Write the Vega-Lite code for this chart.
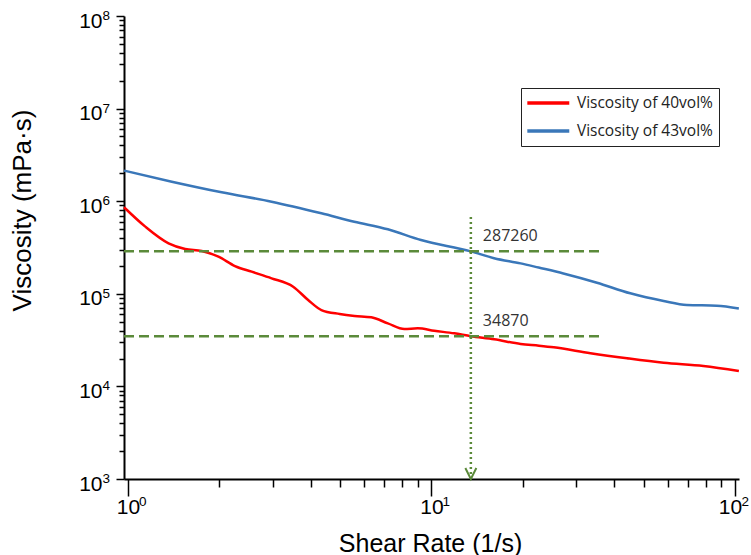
{
  "$schema": "https://vega.github.io/schema/vega-lite/v6.json",
  "width": 615,
  "height": 463,
  "autosize": {"type": "none"},
  "padding": {"left": 124, "top": 16, "right": 12, "bottom": 76},
  "background": "white",
  "config": {"view": {"stroke": null}, "font": "Liberation Sans"},
  "resolve": {"axis": {"x": "independent", "y": "independent"}},
  "datasets": {
    "curves": [
      {"series": "Viscosity of 40vol%", "x": 0.97, "y": 860000},
      {"series": "Viscosity of 40vol%", "x": 1.14, "y": 531000},
      {"series": "Viscosity of 40vol%", "x": 1.36, "y": 351000},
      {"series": "Viscosity of 40vol%", "x": 1.543, "y": 305000},
      {"series": "Viscosity of 40vol%", "x": 1.75, "y": 290000},
      {"series": "Viscosity of 40vol%", "x": 1.986, "y": 252000},
      {"series": "Viscosity of 40vol%", "x": 2.251, "y": 199500},
      {"series": "Viscosity of 40vol%", "x": 2.555, "y": 173300},
      {"series": "Viscosity of 40vol%", "x": 2.972, "y": 147000},
      {"series": "Viscosity of 40vol%", "x": 3.501, "y": 119300},
      {"series": "Viscosity of 40vol%", "x": 3.922, "y": 85700},
      {"series": "Viscosity of 40vol%", "x": 4.337, "y": 66800},
      {"series": "Viscosity of 40vol%", "x": 4.982, "y": 60500},
      {"series": "Viscosity of 40vol%", "x": 5.578, "y": 57600},
      {"series": "Viscosity of 40vol%", "x": 6.329, "y": 55700},
      {"series": "Viscosity of 40vol%", "x": 7.18, "y": 48000},
      {"series": "Viscosity of 40vol%", "x": 8.14, "y": 41700},
      {"series": "Viscosity of 40vol%", "x": 9.009, "y": 42400},
      {"series": "Viscosity of 40vol%", "x": 10.21, "y": 39900},
      {"series": "Viscosity of 40vol%", "x": 11.88, "y": 37400},
      {"series": "Viscosity of 40vol%", "x": 13.48, "y": 34870},
      {"series": "Viscosity of 40vol%", "x": 16.08, "y": 32300},
      {"series": "Viscosity of 40vol%", "x": 19.67, "y": 28700},
      {"series": "Viscosity of 40vol%", "x": 22.6, "y": 27500},
      {"series": "Viscosity of 40vol%", "x": 25.3, "y": 26400},
      {"series": "Viscosity of 40vol%", "x": 33.4, "y": 22800},
      {"series": "Viscosity of 40vol%", "x": 44.1, "y": 20100},
      {"series": "Viscosity of 40vol%", "x": 58.2, "y": 18000},
      {"series": "Viscosity of 40vol%", "x": 78.7, "y": 16600},
      {"series": "Viscosity of 40vol%", "x": 103, "y": 14700},
      {"series": "Viscosity of 43vol%", "x": 0.97, "y": 2140000},
      {"series": "Viscosity of 43vol%", "x": 1.394, "y": 1625000},
      {"series": "Viscosity of 43vol%", "x": 2.035, "y": 1248000},
      {"series": "Viscosity of 43vol%", "x": 2.972, "y": 988000},
      {"series": "Viscosity of 43vol%", "x": 4.337, "y": 740000},
      {"series": "Viscosity of 43vol%", "x": 5.566, "y": 601000},
      {"series": "Viscosity of 43vol%", "x": 7.18, "y": 497000},
      {"series": "Viscosity of 43vol%", "x": 9.236, "y": 381000},
      {"series": "Viscosity of 43vol%", "x": 13.48, "y": 287260},
      {"series": "Viscosity of 43vol%", "x": 16.08, "y": 242000},
      {"series": "Viscosity of 43vol%", "x": 19.67, "y": 213000},
      {"series": "Viscosity of 43vol%", "x": 22.55, "y": 192000},
      {"series": "Viscosity of 43vol%", "x": 27.2, "y": 166000},
      {"series": "Viscosity of 43vol%", "x": 35.1, "y": 131800},
      {"series": "Viscosity of 43vol%", "x": 45.2, "y": 101200},
      {"series": "Viscosity of 43vol%", "x": 58.2, "y": 83600},
      {"series": "Viscosity of 43vol%", "x": 69.4, "y": 75700},
      {"series": "Viscosity of 43vol%", "x": 87.1, "y": 74400},
      {"series": "Viscosity of 43vol%", "x": 103, "y": 69500}
    ],
    "hlines": [
      {"x": 0.97, "x2": 36, "y": 287260},
      {"x": 0.97, "x2": 36, "y": 34870}
    ],
    "vline": [
      {"x": 13.48, "y": 1000, "y2": 710000}
    ],
    "labels": [
      {"x": 13.48, "y": 287260, "label": "287260"},
      {"x": 13.48, "y": 34870, "label": "34870"}
    ],
    "arrow": [
      {"x": 13.48, "y": 1000}
    ],
    "xexp": [
      {"v": 1, "e": "0"},
      {"v": 10, "e": "1"}
    ],
    "xexp2": [
      {"v": 100, "e": "2"}
    ],
    "yexp": [
      {"v": 1000, "e": "3"},
      {"v": 10000, "e": "4"},
      {"v": 100000, "e": "5"},
      {"v": 1000000, "e": "6"},
      {"v": 10000000, "e": "7"},
      {"v": 100000000, "e": "8"}
    ]
  },
  "layer": [
    {
      "data": {"name": "curves"},
      "mark": {"type": "line", "strokeWidth": 2.5, "interpolate": "monotone", "clip": false},
      "encoding": {
        "x": {
          "field": "x", "type": "quantitative",
          "scale": {"type": "log", "domain": [0.97, 103.1], "nice": false},
          "axis": {
            "orient": "bottom",
            "title": "Shear Rate (1/s)",
            "titleFont": "Liberation Sans", "titleFontSize": 25, "titleFontWeight": "normal", "titleColor": "black",
            "titleX": 306, "titleY": 72, "titleBaseline": "alphabetic",
            "values": [1, 10, 100],
            "labelExpr": "'10'",
            "labelFont": "Liberation Sans", "labelFontSize": 21, "labelColor": "black",
            "labelOverlap": false, "labelFlush": false, "labelPadding": 0,
            "labelOffset": {"condition": {"test": "datum.value > 50", "value": -5}, "value": 0},
            "tickSize": 17, "tickColor": "black", "tickWidth": 1.5,
            "domainColor": "black", "domainWidth": 2, "grid": false
          }
        },
        "y": {
          "field": "y", "type": "quantitative",
          "scale": {"type": "log", "domain": [1000, 100000000], "nice": false},
          "axis": {
            "orient": "left",
            "title": "Viscosity (mPa·s)",
            "titleFont": "Liberation Sans", "titleFontSize": 26, "titleFontWeight": "normal", "titleColor": "black",
            "titleX": -102, "titleY": 194, "titleAngle": -90, "titleAlign": "center", "titleBaseline": "middle",
            "values": [1000, 10000, 100000, 1000000, 10000000, 100000000],
            "labelExpr": "'10'",
            "labelFont": "Liberation Sans", "labelFontSize": 21, "labelColor": "black",
            "labelOverlap": false, "labelFlush": false, "labelPadding": 14, "labelOffset": 5,
            "tickSize": 8, "tickColor": "black", "tickWidth": 1.5,
            "domainColor": "black", "domainWidth": 2, "grid": false
          }
        },
        "color": {
          "field": "series", "type": "nominal",
          "scale": {"domain": ["Viscosity of 40vol%", "Viscosity of 43vol%"], "range": ["#FF0000", "#3A77B9"]},
          "legend": {
            "title": null, "orient": "none", "legendX": 397, "legendY": 72,
            "strokeColor": "#222222", "fillColor": "white", "padding": 6,
            "symbolType": "M-3.02,0H3.02", "symbolSize": 193, "symbolStrokeWidth": 3.5, "symbolOffset": 12.3,
            "labelFont": "Open Sans", "labelFontSize": 15.5, "labelColor": "#222222", "labelOffset": 19.6,
            "rowPadding": 10, "labelLimit": 300
          }
        }
      }
    },
    {
      "data": {"name": "hlines"},
      "mark": {"type": "rule", "color": "#5B8A3A", "strokeWidth": 2.5, "strokeDash": [10, 5]},
      "encoding": {
        "x": {
          "field": "x", "type": "quantitative",
          "axis": {
            "orient": "bottom", "title": null, "labels": false, "domain": false, "grid": false,
            "values": [2,3,4,5,6,7,8,9,20,30,40,50,60,70,80,90],
            "tickSize": 8, "tickColor": "black", "tickWidth": 1.5
          }
        },
        "x2": {"field": "x2"},
        "y": {
          "field": "y", "type": "quantitative",
          "axis": {
            "orient": "left", "title": null, "labels": false, "domain": false, "grid": false,
            "values": [2000,3000,4000,5000,6000,7000,8000,9000,20000,30000,40000,50000,60000,70000,80000,90000,200000,300000,400000,500000,600000,700000,800000,900000,2000000,3000000,4000000,5000000,6000000,7000000,8000000,9000000,20000000,30000000,40000000,50000000,60000000,70000000,80000000,90000000],
            "tickSize": 5, "tickColor": "black", "tickWidth": 1.5
          }
        }
      }
    },
    {
      "data": {"name": "vline"},
      "mark": {"type": "rule", "color": "#5B8A3A", "strokeWidth": 2.5, "strokeDash": [2, 3]},
      "encoding": {
        "x": {"field": "x", "type": "quantitative", "axis": null},
        "y": {"field": "y", "type": "quantitative", "axis": null},
        "y2": {"field": "y2"}
      }
    },
    {
      "data": {"name": "arrow"},
      "mark": {"type": "point", "shape": "M-1,-1L0,1L1,-1", "size": 121, "filled": false, "color": "#5B8A3A", "strokeWidth": 2, "yOffset": -5.5, "opacity": 1},
      "encoding": {
        "x": {"field": "x", "type": "quantitative", "axis": null},
        "y": {"field": "y", "type": "quantitative", "axis": null}
      }
    },
    {
      "data": {"name": "labels"},
      "mark": {"type": "text", "align": "left", "baseline": "alphabetic", "dx": 12, "dy": -10, "font": "Open Sans", "fontSize": 16, "color": "#333333"},
      "encoding": {
        "x": {"field": "x", "type": "quantitative", "axis": null},
        "y": {"field": "y", "type": "quantitative", "axis": null},
        "text": {"field": "label"}
      }
    },
    {
      "data": {"name": "xexp"},
      "mark": {"type": "text", "align": "left", "baseline": "alphabetic", "dx": 11, "dy": 27, "font": "Liberation Sans", "fontSize": 13.5, "color": "black", "clip": false},
      "encoding": {
        "x": {"field": "v", "type": "quantitative", "axis": null},
        "y": {"datum": 1000, "type": "quantitative", "axis": null},
        "text": {"field": "e"}
      }
    },
    {
      "data": {"name": "xexp2"},
      "mark": {"type": "text", "align": "left", "baseline": "alphabetic", "dx": 6.5, "dy": 27, "font": "Liberation Sans", "fontSize": 13.5, "color": "black", "clip": false},
      "encoding": {
        "x": {"field": "v", "type": "quantitative", "axis": null},
        "y": {"datum": 1000, "type": "quantitative", "axis": null},
        "text": {"field": "e"}
      }
    },
    {
      "data": {"name": "yexp"},
      "mark": {"type": "text", "align": "left", "baseline": "alphabetic", "dx": -21.5, "dy": 4, "font": "Liberation Sans", "fontSize": 13.5, "color": "black", "clip": false},
      "encoding": {
        "x": {"datum": 0.97, "type": "quantitative", "axis": null},
        "y": {"field": "v", "type": "quantitative", "axis": null},
        "text": {"field": "e"}
      }
    }
  ]
}
